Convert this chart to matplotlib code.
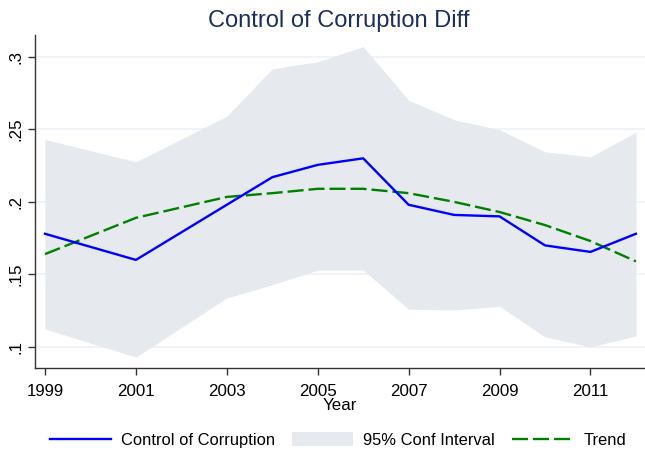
import numpy as np
import matplotlib
matplotlib.use("Agg")
import matplotlib.pyplot as plt

plt.rcParams["font.family"] = ["Liberation Sans", "DejaVu Sans"]

# =========================
# DATOS
# =========================

anios = [1999, 2001, 2003, 2004, 2005, 2006, 2007, 2008, 2009, 2010, 2011, 2012]

control_corrupcion = [0.178, 0.160, 0.198, 0.217, 0.2255, 0.230,
                      0.198, 0.191, 0.190, 0.170, 0.1655, 0.178]

ic_superior = [0.243, 0.2276, 0.259, 0.2917, 0.2966, 0.307,
               0.270, 0.2566, 0.2497, 0.2345, 0.231, 0.248]

ic_inferior = [0.1124, 0.093, 0.1338, 0.1428, 0.153, 0.153,
               0.126, 0.1255, 0.128, 0.107, 0.100, 0.1076]

tendencia = [0.164, 0.189, 0.2034, 0.206, 0.209, 0.209,
             0.206, 0.200, 0.193, 0.184, 0.173, 0.159]

ticks_x = [1999, 2001, 2003, 2005, 2007, 2009, 2011]
ticks_y = [0.1, 0.15, 0.2, 0.25, 0.3]
etiquetas_y = [".1", ".15", ".2", ".25", ".3"]

# =========================
# GRÁFICO
# =========================

fig = plt.figure(figsize=(6.45, 4.57), dpi=100)
ax = fig.add_axes([35 / 645, 1 - 368 / 457, 1 - 35 / 645, (368 - 35) / 457])

ax.fill_between(anios, ic_inferior, ic_superior, color="#E6E9EE",
                linewidth=0, label="95% Conf Interval", zorder=1)

ax.plot(anios, control_corrupcion, color="#0000FF", linewidth=1.7,
        label="Control of Corruption", zorder=3)

ax.plot(anios, tendencia, color="#008000", linewidth=1.7,
        dashes=(6.8, 2.1), label="Trend", zorder=2)

ax.set_xlim(1998.78, 2012.2)
ax.set_ylim(0.0855, 0.315)

ax.set_xticks(ticks_x)
ax.set_xticklabels([str(a) for a in ticks_x], fontsize=12.2)
ax.set_yticks(ticks_y)
ax.set_yticklabels(etiquetas_y, fontsize=12.2, rotation=90, va="center")

ax.grid(axis="y", color="#EDF1F6", linewidth=1.2, zorder=0)
ax.set_axisbelow(True)

for lado in ["top", "right"]:
    ax.spines[lado].set_visible(False)
for lado in ["left", "bottom"]:
    ax.spines[lado].set_color("#333333")
    ax.spines[lado].set_linewidth(1.0)

ax.tick_params(direction="out", length=5, width=1, color="#333333",
               labelcolor="black", pad=3.5)
ax.tick_params(axis="x", pad=6.5)

ax.set_xlabel("Year", fontsize=12.2, labelpad=-1)

fig.text(0.525, 1 - 21 / 457, "Control of Corruption Diff", fontsize=17,
         color="#1C2E5A", ha="center", va="center")

handles, labels = ax.get_legend_handles_labels()
orden = [labels.index("Control of Corruption"),
         labels.index("95% Conf Interval"),
         labels.index("Trend")]
fig.legend([handles[i] for i in orden], [labels[i] for i in orden],
           loc="center", bbox_to_anchor=(0.524, 1 - 440 / 457), ncol=3,
           frameon=False, fontsize=11.9, handlelength=3.7, handleheight=0.9,
           handletextpad=0.6, columnspacing=1.05)

fig.savefig("out.png", dpi=100)
